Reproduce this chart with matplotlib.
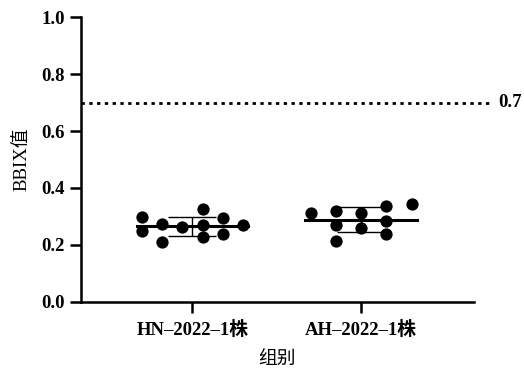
import numpy as np
import matplotlib
matplotlib.use('Agg')
import matplotlib.pyplot as plt
import matplotlib.transforms as mtransforms

plt.rcParams['font.family'] = ['Liberation Serif', 'Noto Sans CJK SC']
plt.rcParams['font.weight'] = 'bold'
plt.rcParams['axes.unicode_minus'] = False

# 数据
groups = ['HN\u20132022\u20131株', 'AH\u20132022\u20131株']
hn_values = [0.297, 0.248, 0.274, 0.209, 0.264, 0.326, 0.270, 0.226, 0.295, 0.238, 0.270]
hn_offsets = [-0.30, -0.30, -0.18, -0.18, -0.06, 0.06, 0.06, 0.06, 0.18, 0.18, 0.30]
ah_values = [0.312, 0.320, 0.268, 0.215, 0.311, 0.259, 0.338, 0.285, 0.238, 0.342]
ah_offsets = [-0.30, -0.15, -0.15, -0.15, 0.0, 0.0, 0.15, 0.15, 0.15, 0.30]
threshold = 0.7

fig = plt.figure(figsize=(5.24, 3.71), dpi=100)
ax = fig.add_axes([0.154, 0.187, 0.751, 0.766])

for i, (vals, offs) in enumerate([(hn_values, hn_offsets), (ah_values, ah_offsets)]):
    vals = np.array(vals)
    m = vals.mean()
    sd = vals.std(ddof=1)
    ax.scatter(i + np.array(offs), vals, s=78, color='black', zorder=3, linewidths=0)
    ax.plot([i - 0.33, i + 0.33], [m, m], color='black', lw=2.2, zorder=2)
    ax.errorbar(i, m, yerr=sd, color='black', lw=1.0, capsize=17, capthick=1.0, zorder=2)

# 阈值线
ax.axhline(threshold, xmin=0, xmax=1.04, color='black', ls=(0, (1.2, 1.6)), lw=2, clip_on=False)
trans = mtransforms.blended_transform_factory(ax.transAxes, ax.transData)
ax.text(1.06, threshold, '0.7', transform=trans, va='center', ha='left', fontsize=13.5)

ax.set_xlim(-0.662, 1.67)
ax.set_ylim(0, 1.0)
ax.set_yticks(np.arange(0, 1.01, 0.2))
ax.set_yticklabels([f'{v:.1f}' for v in np.arange(0, 1.01, 0.2)])
ax.set_xticks([0, 1])
ax.set_xticklabels(groups)
ax.tick_params(axis='both', width=1.8, length=8, labelsize=13.5)
ax.tick_params(axis='x', pad=6)

for s in ['top', 'right']:
    ax.spines[s].set_visible(False)
for s in ['left', 'bottom']:
    ax.spines[s].set_linewidth(1.8)

ax.set_ylabel('BBIX值', fontsize=13.5, labelpad=8)
ax.set_xlabel('组别', fontsize=13.5, labelpad=9)

fig.savefig('out.png', dpi=100)
